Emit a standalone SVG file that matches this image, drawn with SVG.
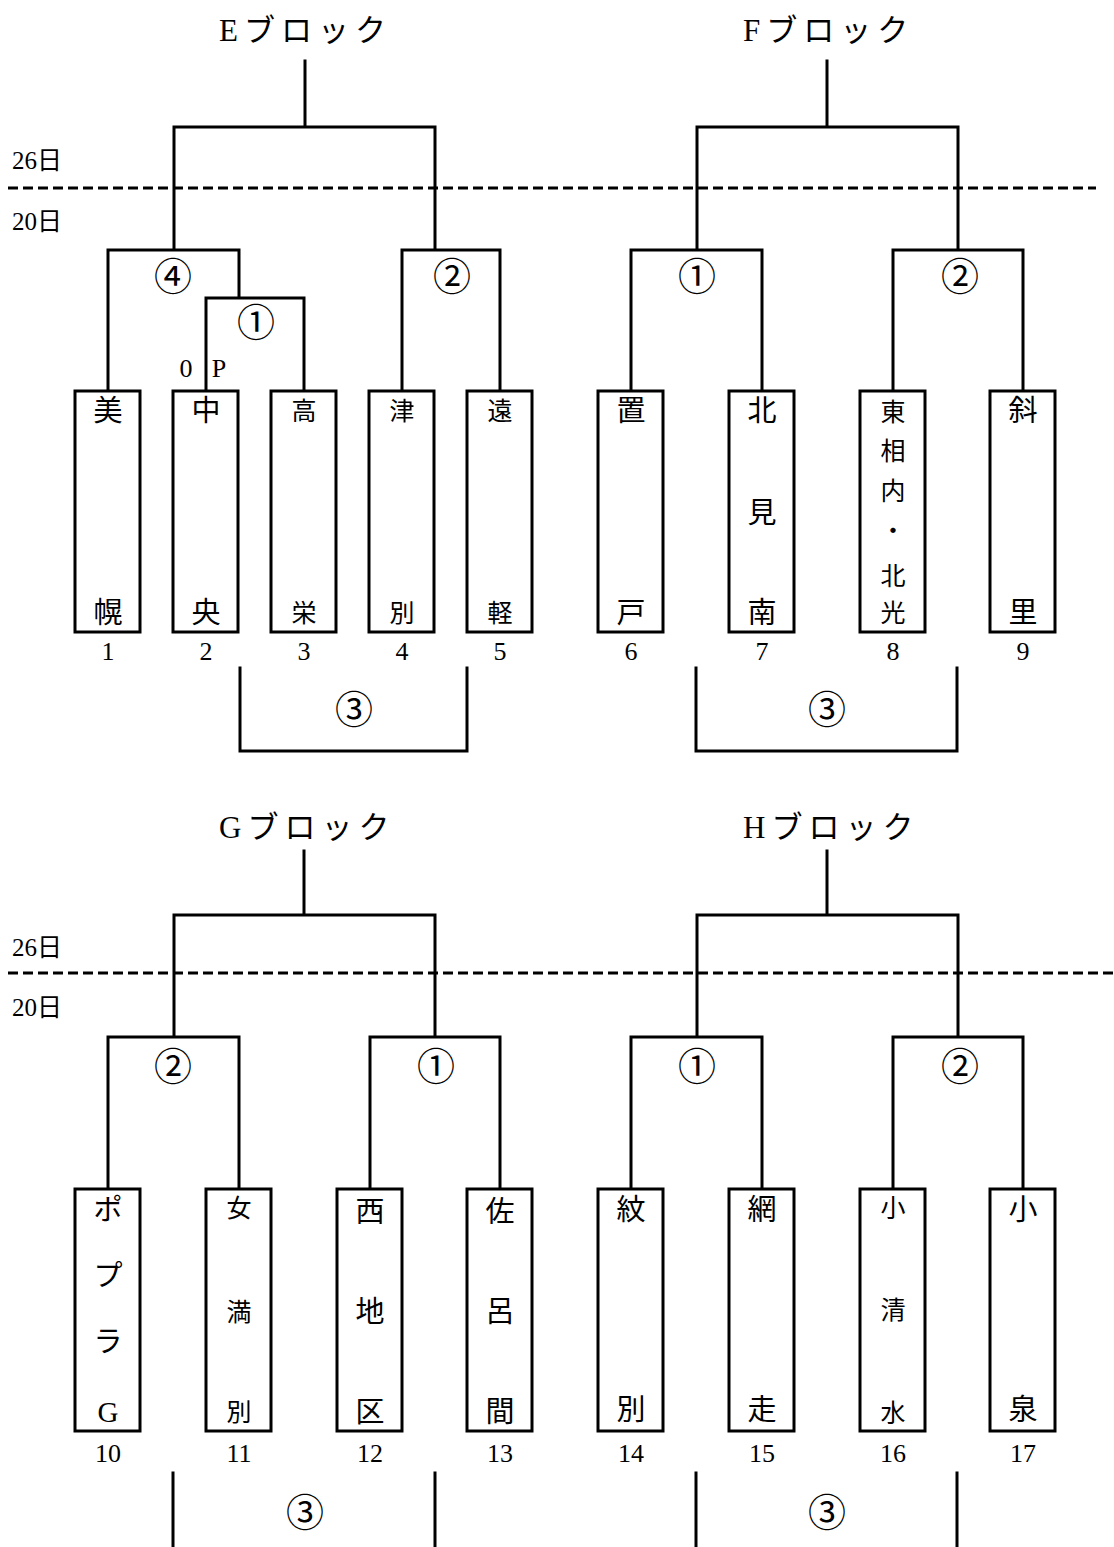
<svg xmlns="http://www.w3.org/2000/svg" width="1114" height="1547" viewBox="0 0 1114 1547">
<style>
.ln{fill:none;stroke:#000;stroke-width:3;stroke-linecap:square}
.dash{fill:none;stroke:#000;stroke-width:3;stroke-dasharray:10 5}
.box{fill:#fff;stroke:#000;stroke-width:3}
text{font-family:"Liberation Serif","Noto Sans CJK JP",serif;fill:#000;dominant-baseline:central;text-anchor:middle}
.t{font-size:31px;text-anchor:start;letter-spacing:6px}
.d{font-size:25px;text-anchor:start}
.n{font-size:26px}
.c{font-size:38px}
.b{font-size:29px}
.s{font-size:25px}
</style>
<rect width="1114" height="1547" fill="#fff"/>
<g id="titles">
<text class="t" x="219" y="30">Eブロック</text>
<text class="t" x="743" y="30">Fブロック</text>
<text class="t" x="219" y="827">Gブロック</text>
<text class="t" x="743" y="827">Hブロック</text>
</g>
<g id="dates">
<text class="d" x="12" y="160">26日</text>
<text class="d" x="12" y="221">20日</text>
<text class="d" x="12" y="947">26日</text>
<text class="d" x="12" y="1007">20日</text>
<line class="dash" x1="8" y1="188" x2="1096" y2="188"/>
<line class="dash" x1="8" y1="973" x2="1114" y2="973"/>
</g>
<g id="connectors">
<path class="ln" d="M305,61V127M174,250V127H435V250M108,390V250H239V298M206,390V298H304V390M402,390V250H500V390M240,668V751H467V668"/>
<path class="ln" d="M827,61V127M697,250V127H958V250M631,390V250H762V390M893,390V250H1023V390M696,668V751H957V668"/>
<path class="ln" d="M304,851V915M174,1037V915H435V1037M108,1188V1037H239V1188M370,1188V1037H500V1188M173,1473V1547M435,1473V1547"/>
<path class="ln" d="M827,851V915M697,1037V915H958V1037M631,1188V1037H762V1188M893,1188V1037H1023V1188M696,1473V1547M957,1473V1547"/>
</g>
<g id="match-labels">
<text class="c" x="173" y="277">④</text>
<text class="c" x="256" y="323">①</text>
<text class="c" x="452" y="277">②</text>
<text class="c" x="354" y="710">③</text>
<text class="n" x="186" y="368">0</text>
<text class="n" x="219" y="368">P</text>
<text class="c" x="697" y="277">①</text>
<text class="c" x="960" y="277">②</text>
<text class="c" x="827" y="710">③</text>
<text class="c" x="173" y="1067">②</text>
<text class="c" x="436" y="1067">①</text>
<text class="c" x="305" y="1513">③</text>
<text class="c" x="697" y="1067">①</text>
<text class="c" x="960" y="1067">②</text>
<text class="c" x="827" y="1513">③</text>
</g>
<g id="team1"><rect class="box" x="75" y="391" width="65" height="241"/><text class="b" x="108" y="411">美</text><text class="b" x="108" y="613">幌</text><text class="n" x="108" y="651">1</text></g>
<g id="team2"><rect class="box" x="173" y="391" width="65" height="241"/><text class="b" x="206" y="411">中</text><text class="b" x="206" y="613">央</text><text class="n" x="206" y="651">2</text></g>
<g id="team3"><rect class="box" x="271" y="391" width="65" height="241"/><text class="s" x="304" y="411">高</text><text class="s" x="304" y="613">栄</text><text class="n" x="304" y="651">3</text></g>
<g id="team4"><rect class="box" x="369" y="391" width="65" height="241"/><text class="s" x="402" y="411">津</text><text class="s" x="402" y="613">別</text><text class="n" x="402" y="651">4</text></g>
<g id="team5"><rect class="box" x="467" y="391" width="65" height="241"/><text class="s" x="500" y="411">遠</text><text class="s" x="500" y="613">軽</text><text class="n" x="500" y="651">5</text></g>
<g id="team6"><rect class="box" x="598" y="391" width="65" height="241"/><text class="b" x="631" y="411">置</text><text class="b" x="631" y="613">戸</text><text class="n" x="631" y="651">6</text></g>
<g id="team7"><rect class="box" x="729" y="391" width="65" height="241"/><text class="b" x="762" y="411">北</text><text class="b" x="762" y="513">見</text><text class="b" x="762" y="613">南</text><text class="n" x="762" y="651">7</text></g>
<g id="team8"><rect class="box" x="860" y="391" width="65" height="241"/><text class="s" x="893" y="412">東</text><text class="s" x="893" y="451">相</text><text class="s" x="893" y="491">内</text><text class="s" x="893" y="531">・</text><text class="s" x="893" y="576">北</text><text class="s" x="893" y="613">光</text><text class="n" x="893" y="651">8</text></g>
<g id="team9"><rect class="box" x="990" y="391" width="65" height="241"/><text class="b" x="1023" y="411">斜</text><text class="b" x="1023" y="613">里</text><text class="n" x="1023" y="651">9</text></g>
<g id="team10"><rect class="box" x="75" y="1189" width="65" height="242"/><text class="b" x="108" y="1210">ポ</text><text class="b" x="108" y="1276">プ</text><text class="b" x="108" y="1342">ラ</text><text class="b" x="108" y="1412">G</text><text class="n" x="108" y="1453">10</text></g>
<g id="team11"><rect class="box" x="206" y="1189" width="65" height="242"/><text class="s" x="239" y="1208">女</text><text class="s" x="239" y="1312">満</text><text class="s" x="239" y="1412">別</text><text class="n" x="239" y="1453">11</text></g>
<g id="team12"><rect class="box" x="337" y="1189" width="65" height="242"/><text class="b" x="370" y="1212">西</text><text class="b" x="370" y="1312">地</text><text class="b" x="370" y="1412">区</text><text class="n" x="370" y="1453">12</text></g>
<g id="team13"><rect class="box" x="467" y="1189" width="65" height="242"/><text class="b" x="500" y="1212">佐</text><text class="b" x="500" y="1312">呂</text><text class="b" x="500" y="1412">間</text><text class="n" x="500" y="1453">13</text></g>
<g id="team14"><rect class="box" x="598" y="1189" width="65" height="242"/><text class="b" x="631" y="1210">紋</text><text class="b" x="631" y="1410">別</text><text class="n" x="631" y="1453">14</text></g>
<g id="team15"><rect class="box" x="729" y="1189" width="65" height="242"/><text class="b" x="762" y="1210">網</text><text class="b" x="762" y="1410">走</text><text class="n" x="762" y="1453">15</text></g>
<g id="team16"><rect class="box" x="860" y="1189" width="65" height="242"/><text class="s" x="893" y="1208">小</text><text class="s" x="893" y="1310">清</text><text class="s" x="893" y="1413">水</text><text class="n" x="893" y="1453">16</text></g>
<g id="team17"><rect class="box" x="990" y="1189" width="65" height="242"/><text class="b" x="1023" y="1210">小</text><text class="b" x="1023" y="1410">泉</text><text class="n" x="1023" y="1453">17</text></g>
</svg>
